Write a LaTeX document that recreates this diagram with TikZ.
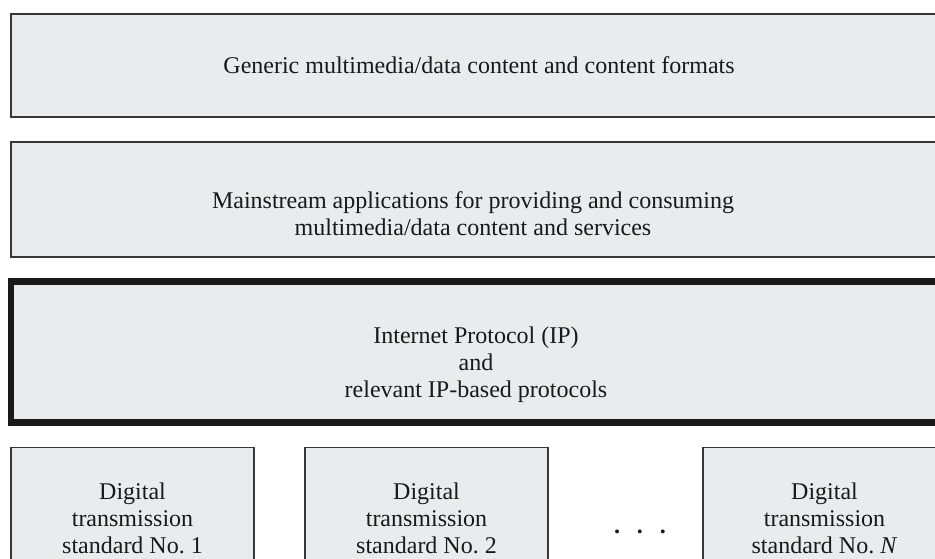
\documentclass[tikz,border=0pt]{standalone}
\usepackage{fontspec}
\setmainfont{Liberation Serif}
\usetikzlibrary{positioning}

\definecolor{layerfill}{RGB}{234,235,237}
\definecolor{layerline}{RGB}{55,55,55}

\begin{document}
\begin{tikzpicture}[x=1pt, y=1pt, node distance=25pt,
    layer/.style={draw=layerline, fill=layerfill, line width=1.3pt, rectangle,
        outer sep=0pt, inner sep=0pt, minimum width=934pt},
    iplayer/.style={layer, draw=black!90, line width=6.5pt},
    standard/.style={layer, minimum width=243pt, minimum height=130pt},
    lbl/.style={align=center, anchor=base, text=black!90,
        font=\fontsize{24}{27}\selectfont}]
        \useasboundingbox (0,0) rectangle (935,-558);

        \node[layer, minimum height=103pt, anchor=north west] (gen) at (11,-14) {};
        \node[layer, minimum height=115pt] (main) [below=of gen] {};
        \node[iplayer, minimum height=141pt] (ip) [below=24.5pt of main] {};
        \node[standard] (std1) [below=of ip.south west, anchor=north west] {};
        \node[standard] (std2) [right=51pt of std1] {};
        \node[standard] (stdN) [right=155pt of std2] {};

        % base anchor sits on the last line
        \node[lbl] (genlbl) at (479,-73) {Generic multimedia/data content and content formats};
        \node[lbl] (mainlbl) at (473,-235) {Mainstream applications for providing and consuming \\ multimedia/data content and services};
        \node[lbl] (iplbl) at (476,-397) {Internet Protocol (IP) \\ and \\ relevant IP-based protocols};
        \node[lbl] (std1lbl) at (std1.north |- 0,-553) {Digital \\ transmission \\ standard No.~1};
        \node[lbl] (std2lbl) at (std2.north |- 0,-553) {Digital \\ transmission \\ standard No.~2};
        \node[lbl] (stdNlbl) at (stdN.north |- 0,-553) {Digital \\ transmission \\ standard No.~\textit{N}};
        \node[lbl, font=\fontsize{24}{27}\selectfont\bfseries] (dots) at (640,-533) {.\hspace{0.7em}.\hspace{0.7em}.};
    \end{tikzpicture}
\end{document}
